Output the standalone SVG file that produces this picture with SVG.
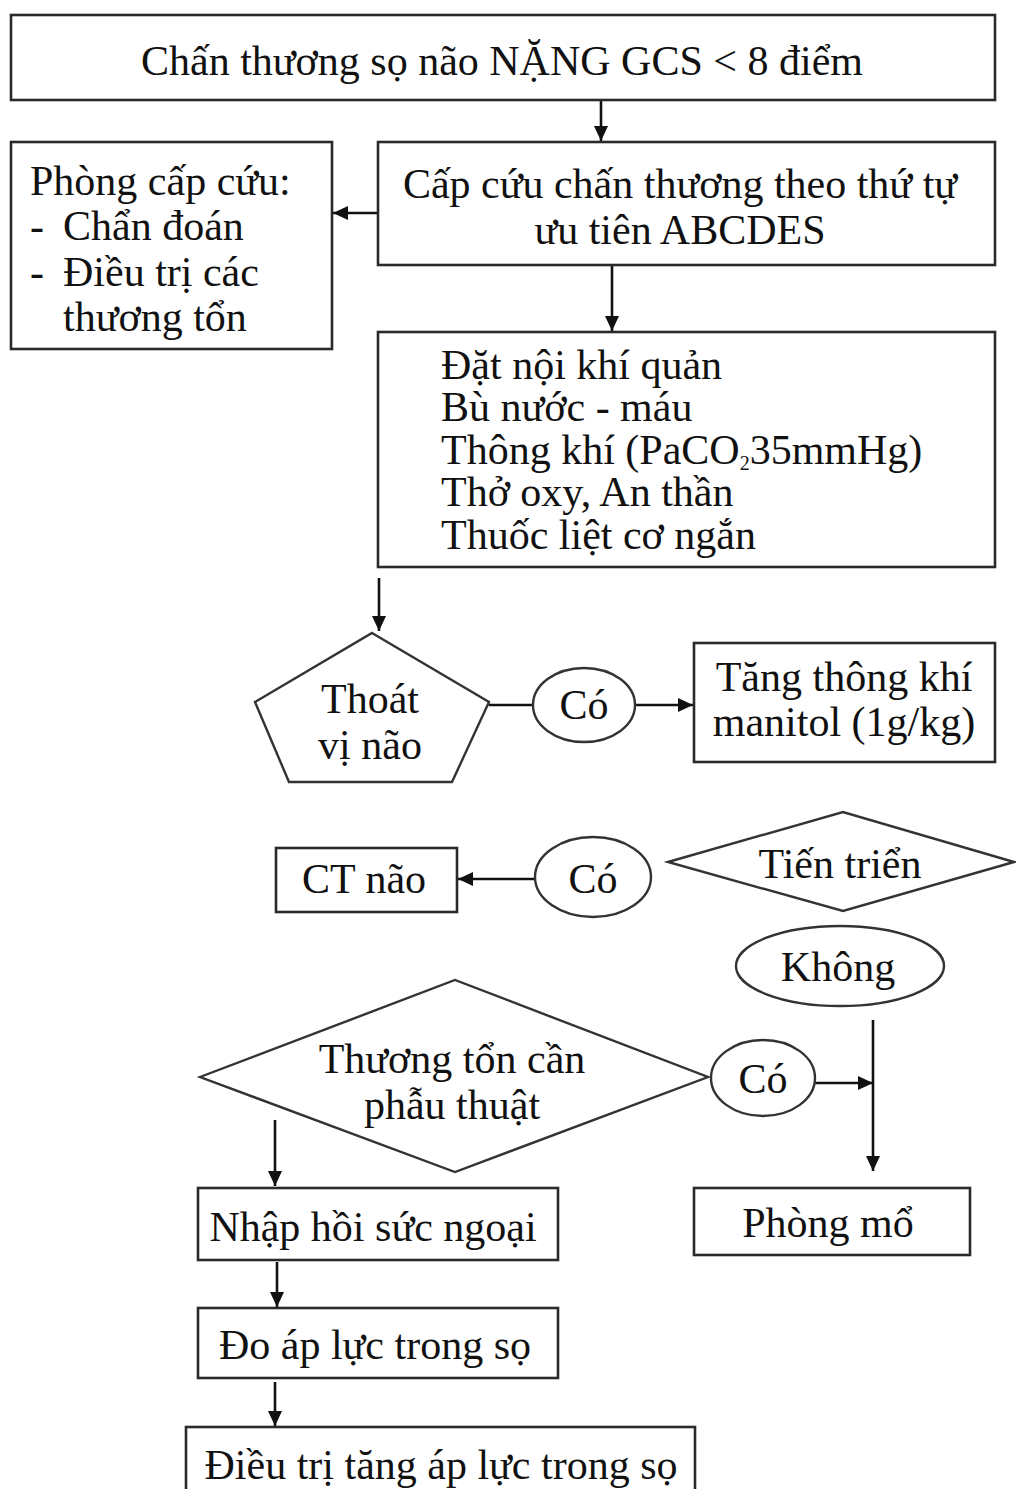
<svg xmlns="http://www.w3.org/2000/svg" width="1016" height="1489" viewBox="0 0 1016 1489">
<defs>
<marker id="arr" markerUnits="userSpaceOnUse" markerWidth="16" markerHeight="16" refX="15" refY="7" orient="auto">
<path d="M0,0 L15,7 L0,14 z" fill="#111"/>
</marker>
</defs>
<style>
.box{fill:#fff;stroke:#2a2a2a;stroke-width:2.6}
.shape{fill:#fff;stroke:#333;stroke-width:2.4}
.t{font-family:"Liberation Serif","Times New Roman",serif;font-size:42px;fill:#111}
.c{text-anchor:middle}
.ln{fill:none;stroke:#111;stroke-width:2.6}
.ar{fill:none;stroke:#111;stroke-width:2.6;marker-end:url(#arr)}
</style>
<rect width="1016" height="1489" fill="#fff"/>

<g id="connectors">
<line class="ar" x1="601" y1="100" x2="601" y2="141"/>
<line class="ar" x1="378" y1="213" x2="333" y2="213"/>
<line class="ar" x1="612" y1="265" x2="612" y2="331"/>
<line class="ar" x1="379" y1="578" x2="379" y2="631"/>
<line class="ln" x1="489" y1="705" x2="533" y2="705"/>
<line class="ar" x1="636" y1="705" x2="693" y2="705"/>
<line class="ar" x1="535" y1="879" x2="458" y2="879"/>
<line class="ar" x1="873" y1="1020" x2="873" y2="1171"/>
<line class="ar" x1="815" y1="1083" x2="873" y2="1083"/>
<line class="ar" x1="275" y1="1120" x2="275" y2="1186"/>
<line class="ar" x1="277" y1="1262" x2="277" y2="1307"/>
<line class="ar" x1="275" y1="1382" x2="275" y2="1426"/>
</g>

<g id="n_top">
<rect class="box" x="11" y="15" width="984" height="85"/>
<text class="t c" x="502" y="75">Chấn thương sọ não NẶNG GCS &lt; 8 điểm</text>
</g>

<g id="n_phongcapcuu">
<rect class="box" x="11" y="142" width="321" height="207"/>
<text class="t" x="30" y="195">Phòng cấp cứu:</text>
<text class="t" x="30" y="240">-</text>
<text class="t" x="63" y="240">Chẩn đoán</text>
<text class="t" x="30" y="286">-</text>
<text class="t" x="63" y="286">Điều trị các</text>
<text class="t" x="63" y="331">thương tổn</text>
</g>

<g id="n_capcuu">
<rect class="box" x="378" y="142" width="617" height="123"/>
<text class="t c" x="680" y="198">Cấp cứu chấn thương theo thứ tự</text>
<text class="t c" x="680" y="244">ưu tiên ABCDES</text>
</g>

<g id="n_datnoi">
<rect class="box" x="378" y="332" width="617" height="235"/>
<text class="t" x="441" y="379">Đặt nội khí quản</text>
<text class="t" x="441" y="421">Bù nước - máu</text>
<text class="t" x="441" y="464">Thông khí (PaCO<tspan font-size="20" dy="6">2</tspan><tspan dy="-6">35mmHg)</tspan></text>
<text class="t" x="441" y="506">Thở oxy, An thần</text>
<text class="t" x="441" y="549">Thuốc liệt cơ ngắn</text>
</g>

<g id="n_thoatvi">
<polygon class="shape" points="372,633 489,702 452,782 289,782 255,702"/>
<text class="t c" x="370" y="713">Thoát</text>
<text class="t c" x="370" y="759">vị não</text>
</g>

<g id="n_co1">
<ellipse class="shape" cx="584" cy="705" rx="51" ry="37"/>
<text class="t c" x="584" y="719">Có</text>
</g>

<g id="n_tangthong">
<rect class="box" x="694" y="643" width="301" height="119"/>
<text class="t c" x="844" y="691">Tăng thông khí</text>
<text class="t c" x="844" y="736">manitol (1g/kg)</text>
</g>

<g id="n_tientrien">
<polygon class="shape" points="668,862 843,812 1014,862 843,911"/>
<text class="t c" x="840" y="878">Tiến triển</text>
</g>

<g id="n_co2">
<ellipse class="shape" cx="593" cy="877" rx="58" ry="40"/>
<text class="t c" x="593" y="893">Có</text>
</g>

<g id="n_ctnao">
<rect class="box" x="276" y="848" width="181" height="64"/>
<text class="t c" x="364" y="893">CT não</text>
</g>

<g id="n_khong">
<ellipse class="shape" cx="840" cy="966" rx="104" ry="40"/>
<text class="t c" x="838" y="981">Không</text>
</g>

<g id="n_thuongton">
<polygon class="shape" points="200,1077 455,980 708,1077 455,1172"/>
<text class="t c" x="452" y="1073">Thương tổn cần</text>
<text class="t c" x="452" y="1119">phẫu thuật</text>
</g>

<g id="n_co3">
<ellipse class="shape" cx="763" cy="1078" rx="52" ry="38"/>
<text class="t c" x="763" y="1093">Có</text>
</g>

<g id="n_nhaphoisuc">
<rect class="box" x="198" y="1188" width="360" height="72"/>
<text class="t c" x="373" y="1241">Nhập hồi sức ngoại</text>
</g>

<g id="n_phongmo">
<rect class="box" x="694" y="1188" width="276" height="67"/>
<text class="t c" x="828" y="1237">Phòng mổ</text>
</g>

<g id="n_doapluc">
<rect class="box" x="198" y="1308" width="360" height="70"/>
<text class="t c" x="375" y="1359">Đo áp lực trong sọ</text>
</g>

<g id="n_dieutri">
<rect class="box" x="186" y="1427" width="509" height="70"/>
<text class="t c" x="441" y="1479">Điều trị tăng áp lực trong sọ</text>
</g>
</svg>
